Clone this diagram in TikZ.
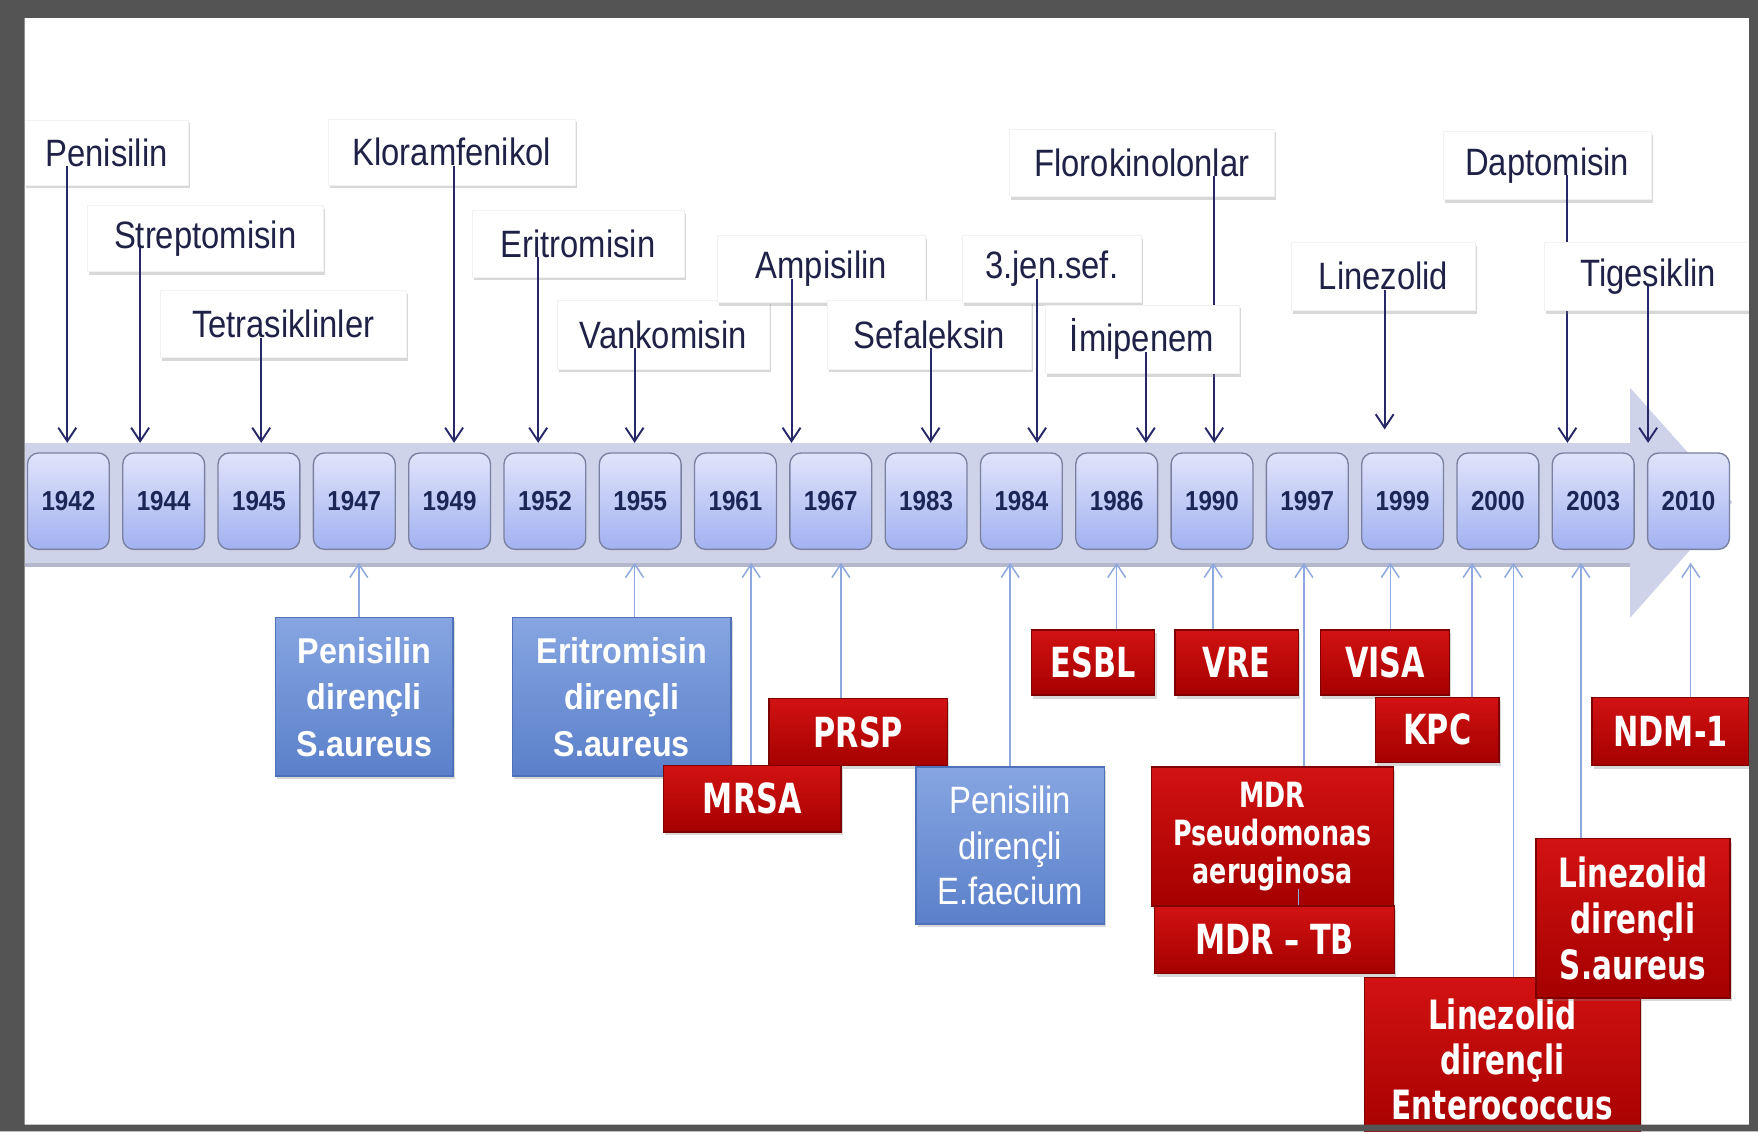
\documentclass[tikz,border=0pt]{standalone}
\usepackage{fontspec}
\setmainfont{Liberation Sans}
\newfontfamily\labfont[FakeStretch=0.86]{Liberation Sans}
\newfontfamily\yrfont[FakeStretch=0.88]{Liberation Sans}
\newfontfamily\bluefont[FakeStretch=0.9]{Liberation Sans}
\newfontfamily\redfont[FakeStretch=0.73]{DejaVu Sans}
\usetikzlibrary{arrows.meta,shadows}
\definecolor{framegray}{HTML}{545454}
\definecolor{bandcol}{HTML}{CED3EA}
\definecolor{bandedge}{HTML}{B4B8CC}
\definecolor{yeartop}{HTML}{E0E4FA}
\definecolor{yearbot}{HTML}{A2B1F1}
\definecolor{yearedge}{HTML}{7A81A0}
\definecolor{yeartext}{HTML}{1C2656}
\definecolor{labtext}{HTML}{1F2246}
\definecolor{navyarrow}{HTML}{262868}
\definecolor{lightarrow}{HTML}{8EA7DE}
\definecolor{bluetop}{HTML}{86A5E1}
\definecolor{bluebot}{HTML}{5B80CA}
\definecolor{blueedge}{HTML}{4F71BA}
\definecolor{redtop}{HTML}{D21212}
\definecolor{redbot}{HTML}{A50000}
\definecolor{rededge}{HTML}{7E0000}
\tikzset{
  shad/.style={drop shadow={shadow xshift=1.5pt, shadow yshift=-3pt, opacity=0.3, fill=gray}},
  labbox/.style={shad, fill=white, draw=gray!10, line width=0.6pt, inner sep=0pt,
    text=labtext, font=\labfont\fontsize{34}{40}\selectfont},
  yearbox/.style={rounded corners=10pt, top color=yeartop, bottom color=yearbot,
    draw=yearedge, line width=1.2pt, minimum width=73pt, minimum height=86pt, inner sep=0pt,
    text=yeartext, font=\yrfont\bfseries\fontsize{24.5}{28}\selectfont},
  bluebox/.style={shad, top color=bluetop, bottom color=bluebot, draw=blueedge, line width=1.2pt,
    inner sep=0pt, text=white, align=center, font=\bluefont\bfseries\fontsize{32}{41.5}\selectfont},
  bluethin/.style={bluebox, font=\labfont\fontsize{34}{41}\selectfont},
  redbox/.style={shad, top color=redtop, bottom color=redbot, draw=rededge, line width=1.2pt,
    inner sep=0pt, text=white, align=center, font=\redfont\bfseries\fontsize{37}{41}\selectfont},
  toparr/.style={draw=navyarrow, line width=1.7pt, -{Straight Barb[length=12pt,width=16pt]}},
  botarr/.style={draw=lightarrow, line width=1.3pt, -{Straight Barb[length=12pt,width=16pt]}},
  botline/.style={draw=lightarrow, line width=1.3pt},
}
\begin{document}
\begin{tikzpicture}[x=1pt,y=-1pt]
\useasboundingbox (0,0) rectangle (1568,1009);
\fill[white] (0,0) rectangle (1568,1009);

% timeline band with arrow head
\fill[bandedge] (22,399) rectangle (1454,506);
\fill[bandcol] (22,395) rectangle (1454,502);
\fill[bandcol] (1454,346) -- (1545,448) -- (1454,551) -- cycle;
\node[inner sep=0pt, minimum width=1432pt, minimum height=107pt] (band) at (738,448.5) {};

% year boxes
\foreach \yr [count=\i from 0] in {1942,1944,1945,1947,1949,1952,1955,1961,1967,1983,1984,1986,1990,1997,1999,2000,2003,2010}
  \node[yearbox] (y\yr) at ({61+85*\i},447) {\yr};

% arrow end points on the band
\coordinate (apen) at (60,395);   \coordinate (astr) at (125,395);
\coordinate (atet) at (233,395);  \coordinate (aklo) at (405,395);
\coordinate (aeri) at (480,395);  \coordinate (avan) at (566,395);
\coordinate (aamp) at (706,395);  \coordinate (asef) at (830,395);
\coordinate (ajen) at (925,395);  \coordinate (aimi) at (1022,395);
\coordinate (aflo) at (1083,395); \coordinate (alin) at (1235,383);
\coordinate (adap) at (1398,395); \coordinate (atig) at (1470,395);

% top labels (drug introductions)
\node[labbox, minimum width=237pt, minimum height=60pt] (flo) at (1018.5,145) {Florokinolonlar};
\draw[toparr] (aflo |- flo.base) -- (aflo);
\node[labbox, minimum width=186pt, minimum height=61pt] (dap) at (1380,147.5) {Daptomisin};
\draw[toparr] (adap |- dap.base) -- (adap);
\node[labbox, minimum width=146pt, minimum height=58pt] (pen) at (95,136) {Penisilin};
\draw[toparr] (apen |- pen.base) -- (apen);
\node[labbox, minimum width=210pt, minimum height=59pt] (str) at (183,212.5) {Streptomisin};
\draw[toparr] (astr |- str.base) -- (astr);
\node[labbox, minimum width=219pt, minimum height=60pt] (tet) at (252.5,289) {Tetrasiklinler};
\draw[toparr] (atet |- tet.base) -- (atet);
\node[labbox, minimum width=220pt, minimum height=59pt] (klo) at (403,135.5) {Kloramfenikol};
\draw[toparr] (aklo |- klo.base) -- (aklo);
\node[labbox, minimum width=189pt, minimum height=59pt] (eri) at (515.5,217.5) {Eritromisin};
\draw[toparr] (aeri |- eri.base) -- (aeri);
\node[labbox, minimum width=189pt, minimum height=61pt] (van) at (591.5,298.5) {Vankomisin};
\draw[toparr] (avan |- van.base) -- (avan);
\node[labbox, minimum width=185pt, minimum height=60pt] (amp) at (732.5,240) {Ampisilin};
\draw[toparr] (aamp |- amp.base) -- (aamp);
\node[labbox, minimum width=182pt, minimum height=61pt] (sef) at (829,298.5) {Sefaleksin};
\draw[toparr] (asef |- sef.base) -- (asef);
\node[labbox, minimum width=160pt, minimum height=60pt] (jen) at (938,240) {3.jen.sef.};
\draw[toparr] (ajen |- jen.base) -- (ajen);
\node[labbox, minimum width=173pt, minimum height=61pt] (imi) at (1018.5,302.5) {İmipenem};
\draw[toparr] (aimi |- imi.base) -- (aimi);
\node[labbox, minimum width=164pt, minimum height=61pt] (lin) at (1234,246.5) {Linezolid};
\draw[toparr] (alin |- lin.base) -- (alin);
\node[labbox, minimum width=186pt, minimum height=61pt] (tig) at (1470,246.5) {Tigesiklin};
\draw[toparr] (atig |- tig.base) -- (atig);

% bottom arrow end points on the band
\coordinate (bpsa) at (320,502);  \coordinate (besa) at (566,502);
\coordinate (bmrsa) at (670,502); \coordinate (bprsp) at (750,502);
\coordinate (bpef) at (901,502);  \coordinate (besbl) at (996,502);
\coordinate (bvre) at (1082,502); \coordinate (bmdrp) at (1163,502);
\coordinate (bvisa) at (1240,502);\coordinate (bkpc) at (1313,502);
\coordinate (blse) at (1350,502); \coordinate (blsa) at (1410,502);
\coordinate (bndm) at (1508,502);

% resistance boxes
\node[bluebox, minimum width=158pt, minimum height=141pt] (psa) at (325,621.5) {Penisilin\\dirençli\\S.aureus};
\node[bluebox, minimum width=195pt, minimum height=141pt] (esa) at (554.5,621.5) {Eritromisin\\dirençli\\S.aureus};
\node[redbox, minimum width=159pt, minimum height=60pt] (prsp) at (765.5,653) {PRSP};
\node[bluethin, minimum width=168pt, minimum height=140pt] (pef) at (901,754) {Penisilin\\dirençli\\E.faecium};
\node[redbox, minimum width=158pt, minimum height=59pt] (mrsa) at (671,712.5) {MRSA};
\node[redbox, minimum width=110pt, minimum height=58pt] (esbl) at (975,591) {ESBL};
\node[redbox, minimum width=110pt, minimum height=58pt] (vre) at (1103,591) {VRE};
\node[redbox, minimum width=115pt, minimum height=58pt] (visa) at (1235.5,591) {VISA};
\node[redbox, minimum width=110pt, minimum height=58pt] (kpc) at (1282,651) {KPC};
\node[redbox, minimum width=140pt, minimum height=61pt] (ndm) at (1490,652.5) {NDM-1};
\node[redbox, minimum width=216pt, minimum height=124pt, font=\redfont\bfseries\fontsize{31}{34}\selectfont] (mdrp) at (1135,746) {MDR\\Pseudomonas\\aeruginosa};
\node[redbox, minimum width=214pt, minimum height=60pt] (mdrtb) at (1137,838) {MDR – TB};
\node[redbox, minimum width=246pt, minimum height=146pt, font=\redfont\bfseries\fontsize{36}{40}\selectfont] (lse) at (1340,945) {Linezolid\\dirençli\\Enterococcus};
\node[redbox, minimum width=173pt, minimum height=142pt, font=\redfont\bfseries\fontsize{36}{41}\selectfont] (lsa) at (1456.5,819) {Linezolid\\dirençli\\S.aureus};

% bottom arrows
\draw[botarr] (bpsa |- psa.north) -- (bpsa);
\draw[botarr] (besa |- esa.north) -- (besa);
\draw[botarr] (bmrsa |- mrsa.north) -- (bmrsa);
\draw[botarr] (bprsp |- prsp.north) -- (bprsp);
\draw[botarr] (bpef |- pef.north) -- (bpef);
\draw[botarr] (besbl |- esbl.north) -- (besbl);
\draw[botarr] (bvre |- vre.north) -- (bvre);
\draw[botarr] (bmdrp |- mdrp.north) -- (bmdrp);
\draw[botarr] (bvisa |- visa.north) -- (bvisa);
\draw[botarr] (bkpc |- kpc.north) -- (bkpc);
\draw[botarr] (blse |- lse.north) -- (blse);
\draw[botarr] (blsa |- lsa.north) -- (blsa);
\draw[botarr] (bndm |- ndm.north) -- (bndm);
\coordinate (tbend) at (1158,793);
\draw[botline] (tbend |- mdrtb.north) -- (tbend);

% frame
\fill[framegray, even odd rule] (0,0) rectangle (1568,1009) (22,16) rectangle (1560,1003);
\end{tikzpicture}
\end{document}
